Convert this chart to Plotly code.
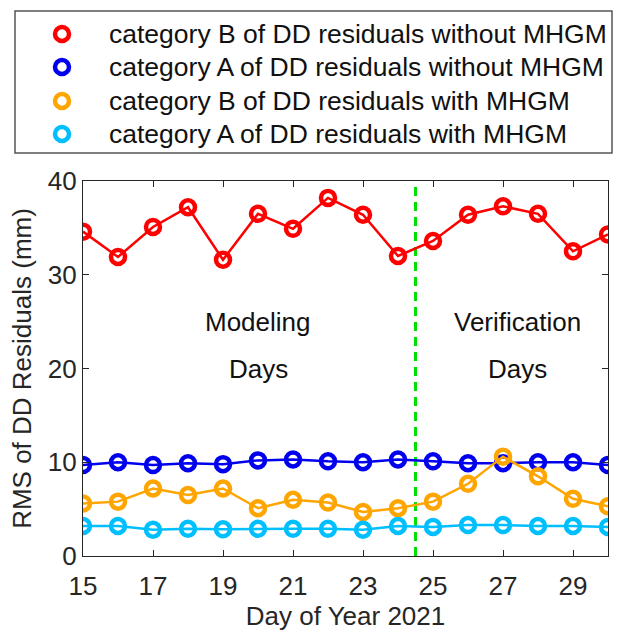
import plotly.graph_objects as go

# Day of year (2021)
days = list(range(15, 31))

# RMS of double-difference residuals (mm)
b_without = [34.6, 31.9, 35.1, 37.2, 31.6, 36.5, 34.9, 38.2, 36.4, 32.0, 33.6, 36.4, 37.3, 36.5, 32.5, 34.3]
a_without = [9.7, 10.0, 9.7, 9.9, 9.8, 10.2, 10.3, 10.1, 10.0, 10.3, 10.1, 9.9, 9.9, 10.0, 10.0, 9.7]
b_with = [5.6, 5.8, 7.2, 6.5, 7.2, 5.1, 6.0, 5.7, 4.7, 5.1, 5.8, 7.7, 10.6, 8.5, 6.1, 5.3]
a_with = [3.2, 3.2, 2.8, 2.9, 2.85, 2.9, 2.9, 2.9, 2.8, 3.2, 3.1, 3.3, 3.3, 3.2, 3.2, 3.1]

series_names = [
    "category B of DD residuals without MHGM",
    "category A of DD residuals without MHGM",
    "category B of DD residuals with MHGM",
    "category A of DD residuals with MHGM",
]
series_values = [b_without, a_without, b_with, a_with]
series_colors = ["#ff0000", "#0000ee", "#ffa500", "#00bfff"]

split_day = 24.5
x_ticks = [15, 17, 19, 21, 23, 25, 27, 29]
y_ticks = [0, 10, 20, 30, 40]

FONT = "Liberation Sans, Arial, sans-serif"
AXIS = "#262626"

# Plot area geometry (px) used to place the legend box above the axes
W, H = 619, 634
ML, MR, MT, MB = 83, 11, 181, 78
PW, PH = W - ML - MR, H - MT - MB


def px_x(p):
    return (p - ML) / PW


def px_y(p):
    return (H - MB - p) / PH


fig = go.Figure()

# Split between modeling and verification days
fig.add_trace(go.Scatter(
    x=[split_day, split_day], y=[0, 40], mode="lines",
    line=dict(color="#00e000", width=3, dash="9px,6px"),
    showlegend=False, hoverinfo="skip",
))

# Data series: lines with open circle markers
for name, vals, col in zip(series_names, series_values, series_colors):
    fig.add_trace(go.Scatter(
        x=days, y=vals, mode="lines+markers", name=name,
        line=dict(color=col, width=2.5),
        marker=dict(symbol="circle-open", size=14, color=col, line=dict(width=4.5, color=col)),
        showlegend=False,
    ))

for x, label in [(20.0, "Modeling"), (27.4, "Verification")]:
    fig.add_annotation(x=x, y=25.0, text=label, showarrow=False,
                       font=dict(family=FONT, size=26, color="#111111"))
    fig.add_annotation(x=x, y=19.9, text="Days", showarrow=False,
                       font=dict(family=FONT, size=26, color="#111111"))

# Legend box above the axes
shapes = [dict(type="rect", xref="paper", yref="paper",
               x0=px_x(15), x1=px_x(612), y0=px_y(153), y1=px_y(11),
               line=dict(color="#555555", width=1.5), fillcolor="white", layer="below")]
row_y = [34, 67, 101, 134]
for name, col, ry in zip(series_names, series_colors, row_y):
    shapes.append(dict(type="circle", xref="paper", yref="paper",
                       xsizemode="pixel", ysizemode="pixel",
                       xanchor=px_x(62), yanchor=px_y(ry),
                       x0=-7, x1=7, y0=-7, y1=7,
                       line=dict(color=col, width=4.5)))
    fig.add_annotation(xref="paper", yref="paper", x=px_x(107), y=px_y(ry),
                       xanchor="left", yanchor="middle", text=name, showarrow=False,
                       font=dict(family=FONT, size=26.5, color="#111111"))

fig.update_layout(
    width=W, height=H,
    margin=dict(l=ML, r=MR, t=MT, b=MB),
    paper_bgcolor="white", plot_bgcolor="white",
    font=dict(family=FONT, color=AXIS),
    showlegend=False,
    shapes=shapes,
)

fig.update_xaxes(
    range=[15, 30], tickvals=x_ticks, ticks="inside", ticklen=6, tickcolor=AXIS,
    showline=True, linecolor=AXIS, linewidth=1.2, mirror="ticks", showgrid=False, zeroline=False,
    tickfont=dict(family=FONT, size=26, color=AXIS), ticklabelstandoff=7, automargin=False,
    title=dict(text="Day of Year 2021", font=dict(family=FONT, size=26, color=AXIS), standoff=6),
)
fig.update_yaxes(
    range=[0, 40], tickvals=y_ticks, ticks="inside", ticklen=6, tickcolor=AXIS,
    showline=True, linecolor=AXIS, linewidth=1.2, mirror="ticks", showgrid=False, zeroline=False,
    tickfont=dict(family=FONT, size=26, color=AXIS), automargin=False,
    title=dict(text="RMS of DD Residuals (mm)", font=dict(family=FONT, size=26, color=AXIS), standoff=8),
)

fig.write_html("out.html")
